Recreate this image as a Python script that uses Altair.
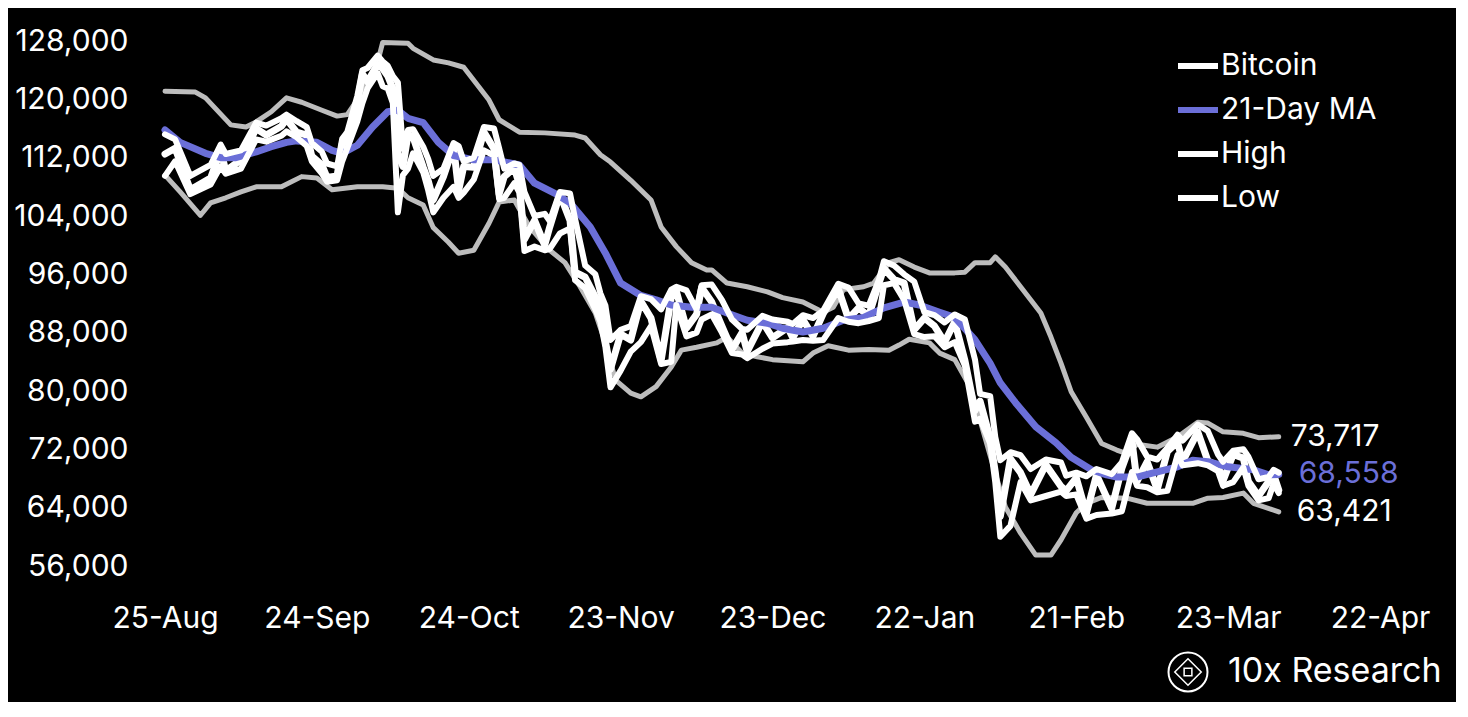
import altair as alt
import pandas as pd

START = pd.Timestamp("2025-08-25")

# ---- Bitcoin daily close / high / low (days since 25-Aug-2025) ----
btc_days = [0, 2, 5, 9, 11, 12, 15, 18, 20, 23, 24, 26, 28, 29, 31, 32, 34, 35, 36, 38,
            39, 40, 42, 43, 44, 45, 46, 47, 48, 49, 51, 52, 53, 55, 57, 58, 59, 61, 63, 65,
            66, 67, 69, 70, 71, 73, 75, 76, 78, 80, 81, 83, 85, 86, 87, 88, 90, 92, 94, 96,
            98, 100, 101, 103, 105, 106, 108, 110, 112, 114, 115, 118, 120, 123, 124, 126, 128, 130, 133, 135,
            137, 139, 141, 142, 144, 146, 148, 150, 152, 154, 156, 158, 160, 161, 163, 164, 165, 167, 169, 171,
            174, 177, 178, 180, 182, 184, 187, 189, 191, 192, 194, 196, 198, 200, 201, 204, 206, 208, 209, 211,
            213, 214, 216, 218, 219, 220]
btc_close = [112500, 113300, 107600, 109200, 113000, 110200, 111700, 116000, 115100, 116300, 117300, 115500, 115100, 112200, 111000, 109300, 109500, 113900, 114400, 119500,
             123500, 122400, 124800, 124200, 123200, 121500, 112500, 110800, 115200, 114800, 110700, 108800, 106200, 109400, 113500, 107500, 110800, 110700, 115500, 113200,
             107000, 109400, 110600, 108300, 100800, 103400, 100000, 102500, 107000, 103400, 96300, 95600, 92900, 91600, 86800, 83000, 87800, 87000, 92300, 90000,
             84200, 92800, 93700, 88600, 90500, 94200, 92200, 88900, 85700, 88000, 85400, 89500, 87300, 88700, 87300, 89800, 87500, 90600, 94000, 89900,
             91400, 90300, 94700, 96800, 95300, 94800, 88400, 90000, 88900, 86700, 89500, 84200, 77300, 78600, 73500, 68900, 62800, 70700, 68800, 65800,
             69900, 66900, 66300, 68100, 63200, 68500, 63900, 69400, 73200, 67600, 70300, 66500, 71700, 73000, 70300, 74400, 70400, 69700, 67700, 71300,
             70800, 67600, 65600, 67600, 68500, 66400]
btc_high = [115200, 114500, 109500, 111000, 113800, 112500, 113000, 116800, 116400, 117400, 117900, 117000, 116200, 114000, 112800, 111200, 110800, 114600, 115500, 120500,
            124000, 124300, 126000, 125200, 124600, 123200, 122300, 113200, 115800, 115900, 113500, 111800, 109500, 110500, 114000, 113600, 111500, 112000, 116200, 116000,
            113300, 110500, 111200, 111000, 107300, 104000, 104300, 103300, 107300, 107100, 103600, 97200, 96000, 93400, 91700, 87000, 88400, 88900, 93000, 92600,
            91200, 93900, 94300, 93800, 91200, 94500, 94600, 92500, 89800, 88500, 88400, 90300, 89800, 89500, 89200, 90400, 90000, 91000, 94700, 94200,
            92000, 91700, 95200, 97800, 97200, 96000, 95000, 90800, 90400, 89400, 90500, 89800, 84300, 79600, 79300, 73700, 70500, 71600, 71200, 69300,
            70600, 70200, 68400, 68800, 68300, 69300, 68600, 70200, 74200, 73400, 71000, 70600, 72200, 74000, 73200, 75400, 74500, 71300, 70300, 71800,
            72000, 71000, 67900, 68200, 69200, 68800]
btc_low = [109500, 111500, 107000, 108300, 110800, 109800, 110500, 114500, 114200, 115000, 115600, 114800, 113600, 111500, 109800, 108700, 108900, 111500, 113300, 117000,
           119500, 121500, 123600, 121800, 121500, 119500, 104500, 109600, 110500, 112600, 110000, 107500, 104500, 106500, 108000, 106500, 107200, 109000, 113000, 112300,
           106300, 106500, 108500, 107200, 99200, 99800, 99300, 99500, 101600, 102300, 95200, 94100, 91200, 89500, 86000, 80500, 82800, 85400, 86700, 88900,
           83700, 84000, 91800, 87500, 88000, 89800, 90500, 88000, 85200, 85000, 84500, 85800, 86500, 86700, 86800, 87000, 86900, 87000, 90000, 89500,
           89300, 89600, 90000, 94500, 94800, 92500, 87800, 87400, 87500, 86000, 86700, 83500, 75800, 76200, 72800, 67500, 60000, 61500, 67500, 65000,
           65600, 66200, 65600, 65800, 62500, 63000, 63200, 63500, 68900, 67000, 66800, 66100, 66300, 71200, 69800, 70100, 69800, 69000, 67000, 67500,
           69500, 67000, 65000, 65300, 67300, 66000]

# ---- 21-day moving average ----
ma_days = [0, 3, 8, 11, 14, 18, 21, 24, 26, 30, 33, 35, 38, 41, 44, 46, 48, 51, 54, 57,
           61, 65, 70, 73, 77, 80, 84, 87, 90, 94, 97, 100, 104, 108, 111, 115, 119, 122, 126, 130,
           134, 138, 142, 146, 149, 153, 156, 160, 163, 165, 168, 172, 176, 179, 183, 186, 188, 192, 196, 200,
           203, 206, 210, 215, 218, 220]
ma_vals = [115800, 114100, 112600, 112000, 112000, 112800, 113500, 114100, 114300, 114100, 113000, 112600, 113700, 116200, 118300, 118500, 117400, 116800, 114100, 112300,
           111700, 111700, 111000, 108500, 107100, 105800, 102500, 98900, 94800, 93100, 92500, 91800, 91500, 91500, 90700, 89700, 89300, 88600, 88100, 88600,
           89700, 90100, 91400, 92200, 91800, 90800, 90100, 87000, 83800, 81100, 78400, 75100, 72900, 70900, 69200, 68500, 68200, 68200, 68900, 69600,
           70500, 70300, 69600, 69200, 68500, 68558]

# ---- 21-day high / low band ----
upper_days = [0, 6, 8, 13, 16, 18, 21, 24, 27, 31, 34, 36, 39, 42, 43, 48, 49, 53, 56, 59,
              64, 66, 70, 75, 81, 83, 86, 88, 92, 96, 98, 101, 104, 107, 108, 111, 115, 119, 122, 126,
              130, 132, 134, 138, 140, 143, 145, 148, 151, 156, 158, 160, 163, 164, 166, 169, 173, 175, 177, 179,
              182, 185, 188, 190, 192, 196, 200, 204, 206, 209, 213, 216, 220]
upper_vals = [121100, 121000, 120200, 116500, 116200, 116900, 118300, 120200, 119600, 118500, 117700, 117900, 121000, 125100, 127800, 127700, 127000, 125400, 125000, 124400,
              119900, 117200, 115500, 115400, 115100, 114700, 112400, 111400, 108900, 106200, 102500, 99800, 97600, 96600, 96600, 94800, 94300, 93600, 92800, 92200,
              90800, 91500, 93900, 94300, 94800, 97600, 98000, 97000, 96200, 96200, 96300, 97600, 97600, 98400, 97000, 94300, 90700, 87400, 83800, 79900,
              76400, 72800, 71900, 71400, 72700, 72300, 73700, 75700, 75600, 74400, 74200, 73600, 73717]
lower_days = [0, 3, 7, 9, 12, 15, 18, 23, 27, 30, 33, 38, 43, 46, 48, 51, 53, 56, 58, 61,
              64, 66, 69, 72, 76, 79, 82, 85, 87, 89, 92, 94, 97, 100, 102, 105, 109, 111, 114, 117,
              120, 126, 128, 131, 135, 139, 143, 145, 147, 151, 153, 156, 159, 161, 164, 166, 169, 172, 175, 177,
              180, 182, 185, 190, 194, 198, 203, 206, 209, 213, 215, 220]
lower_vals = [109600, 107300, 104100, 105800, 106500, 107300, 108000, 108000, 109400, 109200, 107600, 108000, 108000, 107800, 106500, 105500, 102400, 100400, 98900, 99300,
              103000, 105900, 106200, 102500, 99300, 97600, 94300, 90700, 86600, 81500, 79700, 79200, 80600, 83300, 85600, 86000, 86600, 87400, 85200, 84700,
              84300, 84000, 85200, 86200, 85600, 85700, 85600, 86300, 87100, 86600, 85200, 84300, 80600, 76000, 68700, 64100, 60500, 57500, 57500, 59600,
              63300, 64600, 65400, 65300, 64600, 64600, 64600, 65300, 65400, 66000, 64600, 63421]

# ---- axis ticks ----
y_ticks = [56000, 64000, 72000, 80000, 88000, 96000, 104000, 112000, 120000, 128000]
x_ticks = ["2025-08-25", "2025-09-24", "2025-10-24", "2025-11-23", "2025-12-23",
           "2026-01-22", "2026-02-21", "2026-03-23", "2026-04-22"]

series_names = ["Bitcoin", "21-Day MA", "High", "Low"]
series_colors = ["#FFFFFF", "#6B6FD8", "#FFFFFF", "#FFFFFF"]
band_color = "#BDBDBD"
FONT = "Inter"
FS = 30


def to_dates(days):
    return [(START + pd.Timedelta(days=d)).strftime("%Y-%m-%dT00:00:00") for d in days]


def series_df(days, vals, name):
    return pd.DataFrame({"date": to_dates(days), "value": vals, "series": name})


btc_df = series_df(btc_days, btc_close, "Bitcoin")
high_df = series_df(btc_days, btc_high, "High")
low_df = series_df(btc_days, btc_low, "Low")
ma_df = series_df(ma_days, ma_vals, "21-Day MA")
band_df = pd.concat([
    pd.DataFrame({"date": to_dates(upper_days), "value": upper_vals, "band": "upper"}),
    pd.DataFrame({"date": to_dates(lower_days), "value": lower_vals, "band": "lower"}),
])

x_tick_vals = []
for t in x_ticks:
    ts = pd.Timestamp(t)
    x_tick_vals.append(alt.DateTime(year=ts.year, month=ts.month, date=ts.day))

x_enc = alt.X(
    "date:T",
    scale=alt.Scale(domain=[x_tick_vals[0], x_tick_vals[-1]]),
    axis=alt.Axis(values=x_tick_vals, format="%d-%b", title=None, grid=False, domain=False,
                  ticks=False, labelPadding=37, labelFontSize=FS, labelColor="#FFFFFF",
                  labelFont=FONT, labelAngle=0, labelFlush=False),
)
y_enc = alt.Y(
    "value:Q",
    scale=alt.Scale(domain=[56000, 128000], nice=False, zero=False),
    axis=alt.Axis(values=y_ticks, format=",.0f", title=None, grid=False, domain=False,
                  ticks=False, labelPadding=37, labelFontSize=FS, labelColor="#FFFFFF",
                  labelFont=FONT),
)
color_enc = alt.Color(
    "series:N",
    scale=alt.Scale(domain=series_names, range=series_colors),
    legend=alt.Legend(title=None, orient="none", legendX=1010, legendY=2, symbolType="stroke",
                      symbolStrokeWidth=6, symbolSize=1600, labelFontSize=FS, labelFont=FONT,
                      labelColor="#FFFFFF", rowPadding=6, labelOffset=0, padding=0),
)

bands = alt.Chart(band_df).mark_line(strokeWidth=5, color=band_color, strokeJoin="round",
                                     strokeCap="round").encode(x=x_enc, y=y_enc, detail="band:N")


def line_layer(df, width):
    return alt.Chart(df).mark_line(strokeWidth=width, strokeJoin="round", strokeCap="round").encode(
        x=x_enc, y=y_enc, color=color_enc)


btc_line = line_layer(btc_df, 7)
ma_line = line_layer(ma_df, 7)
high_line = line_layer(high_df, 6)
low_line = line_layer(low_df, 6)

end_df = pd.DataFrame({
    "date": to_dates([upper_days[-1], ma_days[-1], lower_days[-1]]),
    "value": [upper_vals[-1], ma_vals[-1], lower_vals[-1]],
    "label": [f"{upper_vals[-1]:,}", f"{ma_vals[-1]:,}", f"{lower_vals[-1]:,}"],
    "col": ["#FFFFFF", "#6B6FD8", "#FFFFFF"],
    "dx": [12, 20, 18],
})
end_labels = [
    alt.Chart(end_df.iloc[[i]]).mark_text(align="left", baseline="middle", fontSize=FS, font=FONT,
                                          dx=int(end_df["dx"].iloc[i]),
                                          color=end_df["col"].iloc[i]).encode(
        x=x_enc, y=y_enc, text="label:N")
    for i in range(3)
]

wm_df = pd.DataFrame({"t": ["10x Research"]})
wm_text = alt.Chart(wm_df).mark_text(align="left", baseline="middle", fontSize=34, font=FONT,
                                     color="#FFFFFF").encode(
    x=alt.value(1063), y=alt.value(631), text="t:N")
logo_outer = alt.Chart(wm_df).mark_point(shape="circle", size=1520, filled=False, color="#FFFFFF",
                                         strokeWidth=2, opacity=1).encode(
    x=alt.value(1023), y=alt.value(631))
logo_inner = alt.Chart(wm_df).mark_point(shape="diamond", size=700, filled=False, color="#FFFFFF",
                                         strokeWidth=1.5, opacity=1).encode(
    x=alt.value(1023), y=alt.value(631))
logo_core = alt.Chart(wm_df).mark_point(shape="square", size=60, filled=False, color="#FFFFFF",
                                        strokeWidth=1.5, opacity=1).encode(
    x=alt.value(1023), y=alt.value(631))

chart = alt.layer(
    bands, btc_line, ma_line, high_line, low_line, *end_labels,
    wm_text, logo_outer, logo_inner, logo_core,
).resolve_scale(color="shared").properties(
    width=1215, height=525, background="#000000",
    padding={"top": 18, "left": 5, "right": 14, "bottom": 6},
).configure_view(stroke=None).configure_axis(labelFont=FONT)

chart.save("out.html", embed_options={"renderer": "svg", "actions": False})
